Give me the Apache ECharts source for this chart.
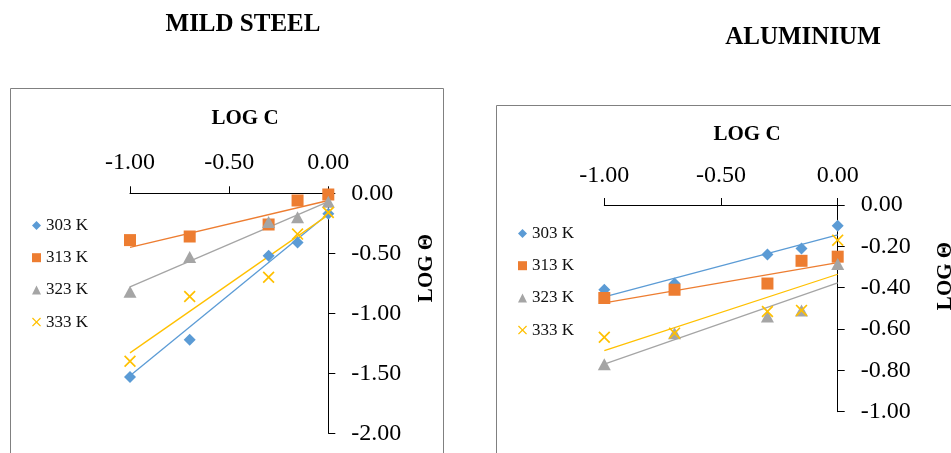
<!DOCTYPE html>
<html>
<head>
<meta charset="utf-8">
<script src="https://cdn.jsdelivr.net/npm/echarts@6/dist/echarts.min.js"></script>
<style>
  html, body { margin: 0; padding: 0; background: #fff; }
  #chart { width: 951px; height: 453px; }
</style>
</head>
<body>
<div id="chart"></div>
<script>
// log of inhibitor concentration
const logC = [-1.00, -0.699, -0.301, -0.155, 0.00]
const seriesNames = ['303 K', '313 K', '323 K', '333 K']

// mild steel, log theta
const ms303 = [-1.53, -1.22, -0.52, -0.41, -0.17]
const ms313 = [-0.39, -0.36, -0.26, -0.06, -0.01]
const ms323 = [-0.82, -0.53, -0.24, -0.20, -0.07]
const ms333 = [-1.40, -0.86, -0.70, -0.34, -0.16]
// trendline ends (at log C = -1 and 0)
const msFit303 = [-1.52, -0.17]
const msFit313 = [-0.45, -0.06]
const msFit323 = [-0.78, -0.07]
const msFit333 = [-1.33, -0.18]

// aluminium, log theta
const al303 = [-0.41, -0.38, -0.24, -0.21, -0.10]
const al313 = [-0.45, -0.41, -0.38, -0.27, -0.25]
const al323 = [-0.77, -0.62, -0.54, -0.51, -0.285]
const al333 = [-0.64, -0.62, -0.515, -0.51, -0.17]
const alFit303 = [-0.445, -0.145]
const alFit313 = [-0.473, -0.279]
const alFit323 = [-0.77, -0.377]
const alFit333 = [-0.705, -0.335]

const fitX = [-1, 0]

const colors = ['#5B9BD5', '#ED7D31', '#A5A5A5', '#FFC000']
const symbols = [
  'diamond',
  'rect',
  'triangle',
  'path://M0,1L1,0L5,4L9,0L10,1L6,5L10,9L9,10L5,6L1,10L0,9L4,5Z'
]
const symbolSizes = [[12, 12], [12, 12], [13, 12], [12, 12]]
const serif = '"Liberation Serif", "Times New Roman", serif'

const pairs = (ys) => logC.map((x, i) => [x, ys[i]])
const fitPairs = (ys) => fitX.map((x, i) => [x, ys[i]])

function buildSeries(gridIdx, points, fits) {
  const out = []
  fits.forEach((f, i) => {
    out.push({
      name: seriesNames[i] + ' fit',
      type: 'line',
      xAxisIndex: gridIdx,
      yAxisIndex: gridIdx,
      data: fitPairs(f),
      symbol: 'none',
      z: 1,
      lineStyle: { color: colors[i], width: 1.3 },
      silent: true
    })
  })
  points.forEach((p, i) => {
    out.push({
      name: seriesNames[i],
      type: 'scatter',
      xAxisIndex: gridIdx,
      yAxisIndex: gridIdx,
      data: pairs(p),
      symbol: symbols[i],
      symbolSize: symbolSizes[i],
      z: 2 + i,
      itemStyle: { color: colors[i], opacity: 1 }
    })
  })
  return out
}

function xAxisCfg(gridIdx, margin) {
  return {
    gridIndex: gridIdx,
    type: 'value',
    position: 'top',
    min: -1,
    max: 0,
    interval: 0.5,
    axisLine: { show: true, onZero: false, lineStyle: { color: '#000', width: 1 } },
    axisTick: { show: true, length: 7, lineStyle: { color: '#000' } },
    splitLine: { show: false },
    axisLabel: {
      margin: margin,
      color: '#000',
      fontFamily: serif,
      fontSize: 24,
      formatter: (v) => v.toFixed(2)
    }
  }
}

function yAxisCfg(gridIdx, min, interval) {
  return {
    gridIndex: gridIdx,
    type: 'value',
    position: 'right',
    min: min,
    max: 0,
    interval: interval,
    axisLine: { show: true, onZero: false, lineStyle: { color: '#000', width: 1 } },
    axisTick: { show: true, length: 7, lineStyle: { color: '#000' } },
    splitLine: { show: false },
    axisLabel: {
      margin: 23,
      color: '#000',
      fontFamily: serif,
      fontSize: 24,
      formatter: (v) => v.toFixed(2)
    }
  }
}

function legendCfg(left, top) {
  return {
    left: left,
    top: top,
    orient: 'vertical',
    data: seriesNames,
    itemWidth: 9,
    itemHeight: 9,
    itemGap: 15.2,
    selectedMode: false,
    textStyle: { fontFamily: serif, fontSize: 17, color: '#111' }
  }
}

const boldText = (text, x, y, size, rot) => ({
  type: 'text',
  x: x,
  y: y,
  rotation: rot || 0,
  style: {
    text: text,
    fontFamily: serif,
    fontWeight: 'bold',
    fontSize: size,
    fill: '#000',
    align: 'center',
    verticalAlign: 'middle'
  }
})

const chart = echarts.init(document.getElementById('chart'))
chart.setOption({
  animation: false,
  backgroundColor: '#fff',
  grid: [
    { left: 130, top: 193.3, width: 198.3, height: 240 },
    { left: 604.3, top: 205, width: 233.4, height: 206.7 }
  ],
  xAxis: [xAxisCfg(0, 19), xAxisCfg(1, 17)],
  yAxis: [yAxisCfg(0, -2, 0.5), yAxisCfg(1, -1, 0.2)],
  legend: [legendCfg(27, 212), legendCfg(513, 220)],
  graphic: [
    {
      type: 'rect',
      shape: { x: 10.5, y: 88.5, width: 433, height: 380 },
      style: { fill: 'none', stroke: '#808080', lineWidth: 1 },
      silent: true
    },
    {
      type: 'rect',
      shape: { x: 496.5, y: 105.5, width: 480, height: 380 },
      style: { fill: 'none', stroke: '#808080', lineWidth: 1 },
      silent: true
    },
    boldText('MILD STEEL', 243, 25, 25),
    boldText('ALUMINIUM', 803, 38, 25),
    boldText('LOG C', 245, 119, 21),
    boldText('LOG C', 747, 135, 21),
    boldText('LOG Θ', 427, 268, 21, Math.PI / 2),
    boldText('LOG Θ', 946, 276, 21, Math.PI / 2)
  ],
  series: [
    ...buildSeries(0, [ms303, ms313, ms323, ms333], [msFit303, msFit313, msFit323, msFit333]),
    ...buildSeries(1, [al303, al313, al323, al333], [alFit303, alFit313, alFit323, alFit333])
  ]
})
</script>
</body>
</html>
